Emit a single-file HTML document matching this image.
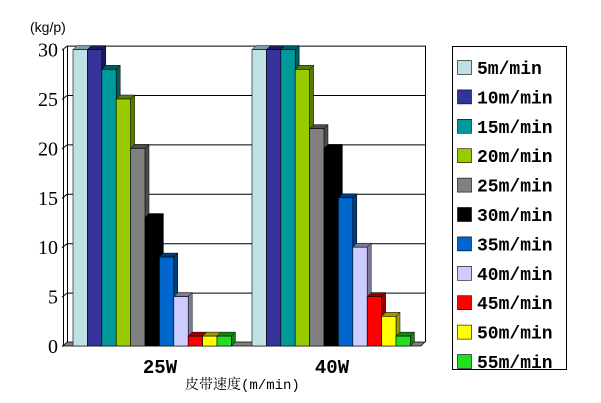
<!DOCTYPE html>
<html><head><meta charset="utf-8"><style>
body{margin:0;background:#fff}
svg{display:block}
text{font-family:"Liberation Mono","Noto Sans CJK SC",monospace;font-weight:bold}
</style></head><body>
<svg id="s" width="601" height="403" xmlns="http://www.w3.org/2000/svg">
<rect width="601" height="403" fill="#fff"/>
<text x="30" y="32" font-size="14" style="font-family:'Liberation Sans',sans-serif;font-weight:normal">(kg/p)</text>
<g id="grid"></g>
<g id="bars"></g>
<text x="160" y="373" font-size="19" text-anchor="middle">25W</text>
<text x="332" y="373" font-size="19" text-anchor="middle">40W</text>
<text x="185" y="389" font-size="14" style="font-family:'Liberation Mono','Noto Serif CJK SC',serif;font-weight:normal">皮带速度(m/min)</text>
<rect x="452.5" y="46.5" width="114" height="323" fill="#fff" stroke="#000"/>
<g id="leg"></g>
</svg>
<script>
var ns="http://www.w3.org/2000/svg";
function el(t,a,p,txt){var e=document.createElementNS(ns,t);for(var k in a)e.setAttribute(k,a[k]);if(txt!=null)e.textContent=txt;document.getElementById(p).appendChild(e);return e;}
var y0=346,k=9.88,d=4;
for(var i=0;i<=6;i++){var y=y0-d-i*5*k;
 if(i>0) el('line',{x1:67,y1:y+.5,x2:425,y2:y+.5,stroke:'#000'},'grid');
 el('line',{x1:62,y1:y+d+.5,x2:67,y2:y+.5,stroke:'#000'},'grid');
 el('text',{x:58,y:y+d+7,'font-size':20,'text-anchor':'end',style:'font-family:"Liberation Serif",serif;font-weight:normal'},'grid',String(i*5));}
el('line',{x1:67.5,y1:y0-d-30*k,x2:67.5,y2:y0-d,stroke:'#000'},'grid');
el('line',{x1:63.5,y1:y0-30*k,x2:63.5,y2:y0,stroke:'#000'},'grid');
el('line',{x1:425.5,y1:y0-d-30*k,x2:425.5,y2:y0-d,stroke:'#000'},'grid');
el('polygon',{points:(63)+','+y0+' '+(67)+','+(y0-d)+' 425,'+(y0-d)+' 421,'+y0,fill:'#808080',stroke:'#000','stroke-width':.7},'grid');
var cols=['#bfe0e4','#333399','#009999','#99cc00','#808080','#000000','#0066cc','#ccccff','#ff0000','#ffff00','#22dd22'];
var dark=['#7aa0a4','#1a1a5c','#005c5c','#5c7a00','#4d4d4d','#000','#003d7a','#7a7a99','#990000','#99990a','#148514'];
var names=['5m/min','10m/min','15m/min','20m/min','25m/min','30m/min','35m/min','40m/min','45m/min','50m/min','55m/min'];
var data=[[30,30,28,25,20,13,9,5,1,1,1],[30,30,30,28,22,20,15,10,5,3,1]];
var gx=[73,252],w=14.4;
for(var g=0;g<2;g++)for(var j=0;j<11;j++){var v=data[g][j];var x=gx[g]+j*w,h=v*k,t=y0-h;
 el('polygon',{points:(x+w)+','+t+' '+(x+w+d)+','+(t-d)+' '+(x+w+d)+','+(y0-d)+' '+(x+w)+','+y0,fill:dark[j],stroke:'#000','stroke-width':.5},'bars');
 el('polygon',{points:x+','+t+' '+(x+d)+','+(t-d)+' '+(x+w+d)+','+(t-d)+' '+(x+w)+','+t,fill:dark[j],stroke:'#000','stroke-width':.5},'bars');
 el('rect',{x:x,y:t,width:w,height:h,fill:cols[j],stroke:'#000','stroke-width':.6},'bars');}
for(var j=0;j<11;j++){var y=60+j*29.4;
 el('rect',{x:457.5,y:y+.5,width:14,height:14,fill:cols[j],stroke:'#000','stroke-width':.6},'leg');
 el('text',{x:477,y:y+14,'font-size':18},'leg',names[j]);}
</script>
</body></html>
